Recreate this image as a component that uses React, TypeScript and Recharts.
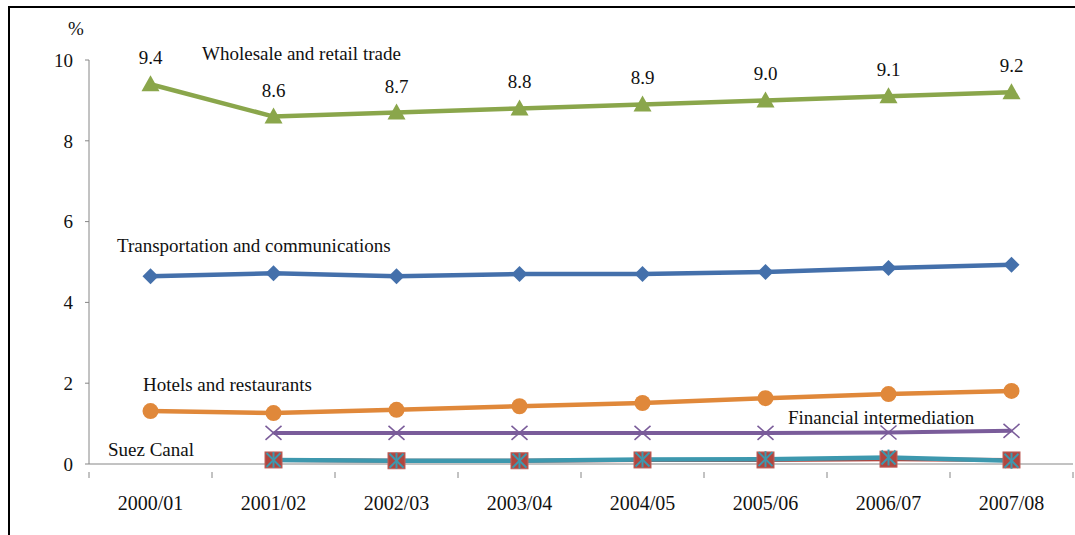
import React from "react"
import { LineChart, Line, XAxis, YAxis, LabelList } from "recharts"

const categories = ["2000/01", "2001/02", "2002/03", "2003/04", "2004/05", "2005/06", "2006/07", "2007/08"]
const wholesale = [9.4, 8.6, 8.7, 8.8, 8.9, 9.0, 9.1, 9.2]
const transport = [4.65, 4.72, 4.65, 4.7, 4.7, 4.75, 4.85, 4.93]
const hotels = [1.31, 1.26, 1.34, 1.43, 1.51, 1.63, 1.73, 1.81]
const financial = [null, 0.77, 0.77, 0.77, 0.77, 0.77, 0.78, 0.82]
const suez = [null, 0.1, 0.08, 0.08, 0.1, 0.1, 0.12, 0.1]
const other = [null, 0.1, 0.08, 0.08, 0.11, 0.12, 0.16, 0.08]
const yTicks = [0, 2, 4, 6, 8, 10]

const data = categories.map((name, i) => ({
  name,
  wholesale: wholesale[i],
  transport: transport[i],
  hotels: hotels[i],
  financial: financial[i],
  suez: suez[i],
  other: other[i],
}))

const W = 1075
const H = 535
const Y_AXIS_W = 89
const X_AXIS_H = 40
// plot area: left 89, right 1073, top 60, bottom 464
const margin = { top: 60, right: 2, bottom: 71 - X_AXIS_H, left: 0 }
const band = (W - Y_AXIS_W - margin.right) / categories.length
const FONT = "Liberation Serif"
const AXIS = "#868686"
const txt = { fontFamily: FONT, fontSize: 19, fill: "#111" }

function Triangle(props: any) {
  const { cx, cy } = props
  if (cx == null || cy == null) return null
  return <path d={`M${cx},${cy - 9} L${cx + 9},${cy + 7} L${cx - 9},${cy + 7} Z`} fill="#8aa64b" />
}

function Diamond(props: any) {
  const { cx, cy } = props
  if (cx == null || cy == null) return null
  return <path d={`M${cx},${cy - 8} L${cx + 8},${cy} L${cx},${cy + 8} L${cx - 8},${cy} Z`} fill="#4470ab" />
}

function Cross(props: any) {
  const { cx, cy } = props
  if (cx == null || cy == null) return null
  return (
    <g stroke="#7a5c9a" strokeWidth={1.5}>
      <line x1={cx - 8} y1={cy - 7} x2={cx + 8} y2={cy + 7} />
      <line x1={cx - 8} y1={cy + 7} x2={cx + 8} y2={cy - 7} />
    </g>
  )
}

function Square(props: any) {
  const { cx, cy } = props
  if (cx == null || cy == null) return null
  return <rect x={cx - 8.5} y={cy - 8} width={17} height={16} fill="#b0463f" stroke="#c0605a" strokeWidth={1} />
}

function Star(props: any) {
  const { cx, cy } = props
  if (cx == null || cy == null) return null
  return (
    <g stroke="#3d98ae" strokeWidth={2}>
      <line x1={cx - 7} y1={cy - 7} x2={cx + 7} y2={cy + 7} />
      <line x1={cx - 7} y1={cy + 7} x2={cx + 7} y2={cy - 7} />
      <line x1={cx} y1={cy - 8} x2={cx} y2={cy + 8} />
    </g>
  )
}

function XTick(props: any) {
  const { x, y, payload, index } = props
  const axisY = y
  return (
    <g>
      <line x1={x - band / 2} y1={axisY} x2={x - band / 2} y2={axisY + 6} stroke={AXIS} />
      {index === categories.length - 1 && (
        <line x1={x + band / 2} y1={axisY} x2={x + band / 2} y2={axisY + 6} stroke={AXIS} />
      )}
      <text x={x} y={axisY + 38} textAnchor="middle" style={{ ...txt, fontSize: 20 }}>
        {payload.value}
      </text>
    </g>
  )
}

const label = (text: string, left: number, top: number) => (
  <div
    style={{
      position: "absolute",
      left,
      top,
      fontFamily: FONT,
      fontSize: 19,
      color: "#111",
      whiteSpace: "nowrap",
      lineHeight: "22px",
    }}
  >
    {text}
  </div>
)

export default function App() {
  return (
    <div style={{ position: "absolute", left: 0, top: 0, width: W, height: H, background: "#fff" }}>
      <div
        style={{
          position: "absolute",
          left: 8,
          top: 6,
          width: W - 8,
          height: H - 6,
          borderTop: "2px solid #000",
          borderLeft: "2px solid #000",
        }}
      />
      <div style={{ position: "absolute", left: 0, top: 0 }}>
        <LineChart width={W} height={H} data={data} margin={margin}>
          <XAxis
            dataKey="name"
            scale="band"
            stroke={AXIS}
            tickLine={false}
            tick={<XTick />}
            interval={0}
            height={X_AXIS_H}
          />
          <YAxis
            domain={[0, 10]}
            ticks={yTicks}
            stroke={AXIS}
            tickSize={4}
            tickMargin={12}
            width={Y_AXIS_W}
            tick={{ ...txt, style: txt }}
          />
          <Line dataKey="suez" stroke="#b0463f" strokeWidth={4} dot={<Square />} isAnimationActive={false} />
          <Line dataKey="other" stroke="#3d98ae" strokeWidth={4.5} dot={<Star />} isAnimationActive={false} />
          <Line dataKey="financial" stroke="#7a5c9a" strokeWidth={4} dot={<Cross />} isAnimationActive={false} />
          <Line dataKey="hotels" stroke="#e0883a" strokeWidth={4.5} dot={{ r: 8, fill: "#e0883a", stroke: "none" }} isAnimationActive={false} />
          <Line dataKey="transport" stroke="#4470ab" strokeWidth={4.5} dot={<Diamond />} isAnimationActive={false} />
          <Line dataKey="wholesale" stroke="#8aa64b" strokeWidth={4.5} dot={<Triangle />} isAnimationActive={false}>
            <LabelList
              dataKey="wholesale"
              position="top"
              offset={20}
              formatter={(v: any) => Number(v).toFixed(1)}
              style={txt}
            />
          </Line>
        </LineChart>
      </div>
      {label("%", 68, 18)}
      {label("Wholesale and retail trade", 202, 43)}
      {label("Transportation and communications", 117, 235)}
      {label("Hotels and restaurants", 143, 374)}
      {label("Financial intermediation", 788, 407)}
      {label("Suez Canal", 108, 439)}
    </div>
  )
}
